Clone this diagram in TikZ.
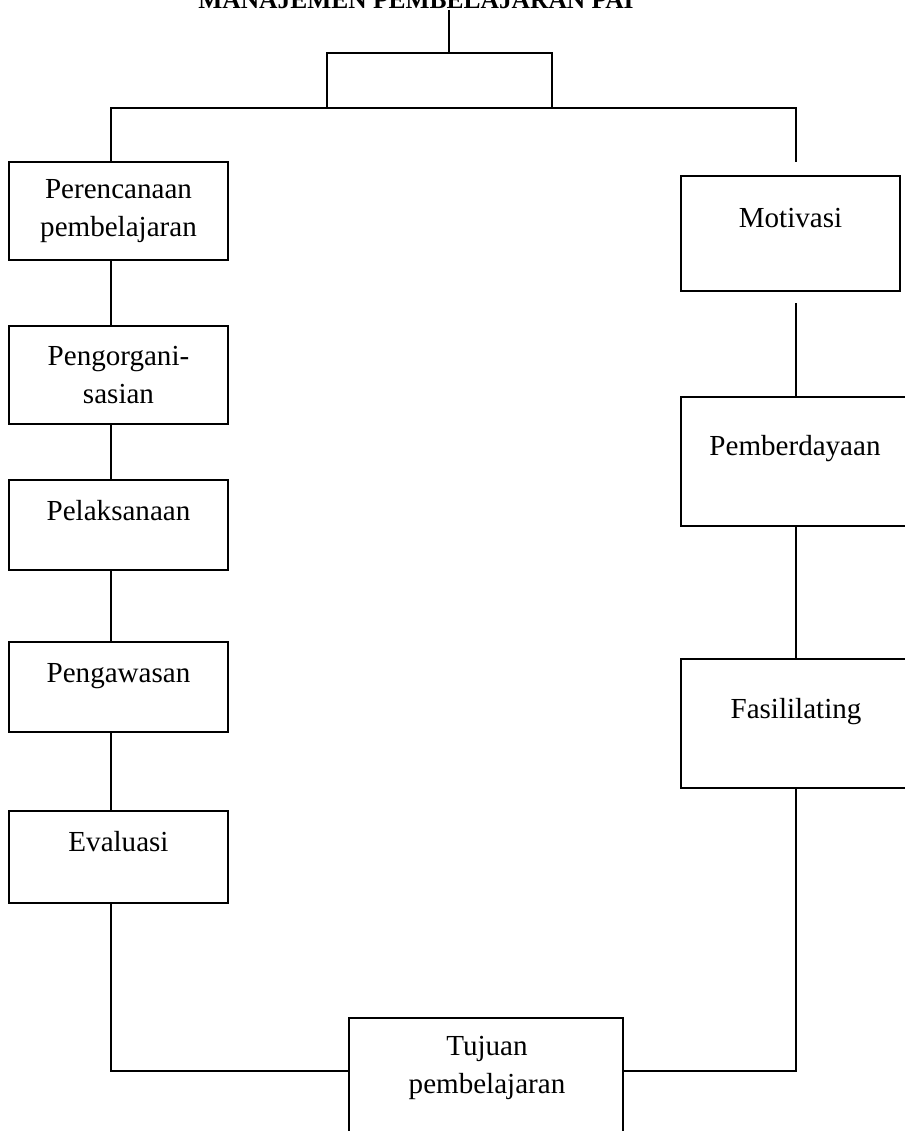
\documentclass[tikz,border=0pt]{standalone}
\usepackage{fontspec}
\setmainfont{Liberation Serif}
\usetikzlibrary{calc}
\begin{document}
\begin{tikzpicture}[x=0.75pt,y=-0.75pt,
  box/.style={draw, line width=1.3pt, inner sep=0pt, outer sep=0pt, align=center,
              font=\fontsize{21.8}{28.4}\selectfont},
  lbl/.style={font=\fontsize{21.8}{28.4}\selectfont, inner sep=0pt, align=center},
  ttl/.style={font=\bfseries\fontsize{19.1}{23}\selectfont, inner sep=0pt},
  conn/.style={line width=1.3pt}]
\useasboundingbox (0,0) rectangle (905,1131);
\fill[white] (0,0) rectangle (905,1131);

% title
\node[ttl, anchor=base] (t) at (416,9) {MANAJEMEN PEMBELAJARAN PAI};
\node[box, minimum width=225*0.75pt, minimum height=55*0.75pt] (brk) at (439.5,80.5) {};

% left column
\node[box, minimum width=219*0.75pt, minimum height=98*0.75pt] (per) at (118.5,211) {Perencanaan\\pembelajaran};
\node[box, minimum width=219*0.75pt, minimum height=98*0.75pt] (org) at (118.5,375) {Pengorgani-\\sasian};
\node[box, minimum width=219*0.75pt, minimum height=90*0.75pt] (pel) at (118.5,525) {};
\node[box, minimum width=219*0.75pt, minimum height=90*0.75pt] (paw) at (118.5,687) {};
\node[box, minimum width=219*0.75pt, minimum height=92*0.75pt] (eva) at (118.5,857) {};
\node[lbl, anchor=base] (pelT) at ($(pel.north)+(0,40)$) {Pelaksanaan};
\node[lbl, anchor=base] (pawT) at ($(paw.north)+(0,40)$) {Pengawasan};
\node[lbl, anchor=base] (evaT) at ($(eva.north)+(0,40)$) {Evaluasi};

% right column
\node[box, minimum width=219*0.75pt, minimum height=115*0.75pt] (mot) at (790.5,233.5) {};
\node[box, minimum width=230*0.75pt, minimum height=129*0.75pt] (pem) at (796,461.5) {};
\node[box, minimum width=230*0.75pt, minimum height=129*0.75pt] (fas) at (796,723.5) {};
\node[lbl, anchor=base] (motT) at ($(mot.north)+(0,51)$) {Motivasi};
\node[lbl, anchor=base] (pemT) at ($(pem.north)+(-1,58)$) {Pemberdayaan};
\node[lbl, anchor=base] (fasT) at ($(fas.north)+(0,59)$) {Fasililating};

% bottom
\node[box, minimum width=274*0.75pt, minimum height=124*0.75pt] (tuj) at (486,1080) {};
\node[lbl] (tujT) at (487,1068) {Tujuan\\pembelajaran};

% connector helpers
\coordinate (lx) at (111,0);
\coordinate (rx) at (796,0);
\coordinate (j0) at (449,10);
\coordinate (mr) at (796,108);
\coordinate (mrEnd) at (796,162);
\coordinate (c2) at (796,303);
\coordinate (by) at (0,1071);

% connectors
\draw[conn] (j0) -- (j0 |- brk.north);
\draw[conn] (lx |- per.north) |- (mr) -- (mrEnd);
\draw[conn] (lx |- per.south) -- (lx |- org.north);
\draw[conn] (lx |- org.south) -- (lx |- pel.north);
\draw[conn] (lx |- pel.south) -- (lx |- paw.north);
\draw[conn] (lx |- paw.south) -- (lx |- eva.north);
\draw[conn] (lx |- eva.south) |- (tuj.west |- by);
\draw[conn] (c2) -- (pem.north);
\draw[conn] (pem.south) -- (fas.south |- fas.north);
\draw[conn] (fas.south) |- (tuj.east |- by);
\end{tikzpicture}
\end{document}
